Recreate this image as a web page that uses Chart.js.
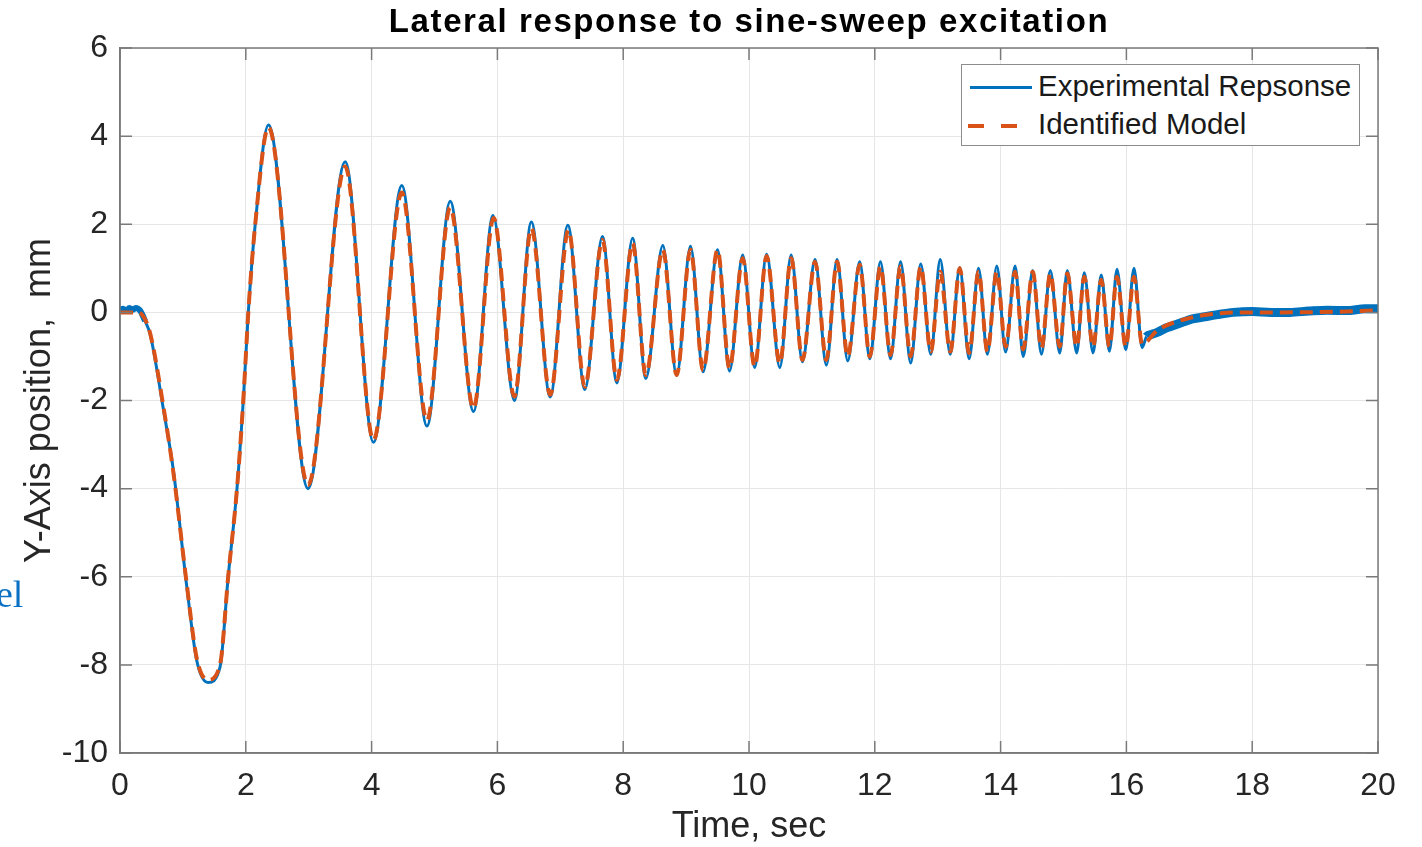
<!DOCTYPE html>
<html>
<head>
<meta charset="utf-8">
<script src="https://cdn.jsdelivr.net/npm/chart.js@4"></script>
<style>
  body { margin: 0; background: #fff; }
  #wrap { position: relative; width: 1422px; height: 847px; overflow: hidden; font-family: "Liberation Sans", Arial, sans-serif; }
  #title { position: absolute; left: 120px; width: 1258px; top: 2px; text-align: center; font-weight: bold; font-size: 33px; letter-spacing: 1.6px; color: #000; }
  #legend { position: absolute; left: 961px; top: 64px; width: 397px; height: 80px; border: 1.5px solid #8c8c8c; background: #fff; }
  .row { position: absolute; left: 76px; font-size: 29.5px; color: #1a1a1a; line-height: 32px; }
  .sw { position: absolute; height: 3px; }
  #stray { position: absolute; left: -4px; top: 572px; font-family: "Liberation Serif", "DejaVu Serif", serif; font-size: 38px; color: #0a70c4; }
</style>
</head>
<body>
<div id="wrap">
  <canvas id="myChart" width="1422" height="847"></canvas>
  <div id="title">Lateral response to sine-sweep excitation</div>
  <div id="legend">
    <div class="sw" style="left:8px; top:21px; width:62px; background:#0072BD;"></div>
    <div class="row" style="top:5px;">Experimental Repsonse</div>
    <div class="sw" style="left:6px; top:59px; width:16px; height:4px; background:#D95319;"></div>
    <div class="sw" style="left:39px; top:59px; width:16px; height:4px; background:#D95319;"></div>
    <div class="row" style="top:43px;">Identified Model</div>
  </div>
  <div id="stray">el</div>
</div>
<script>
// time (s) and position (mm)
var modelTime = [0, 0.1, 0.25, 0.35, 0.48, 0.69, 0.85, 1.06, 1.22, 1.40, 1.59, 1.72, 1.86, 1.96, 2.04, 2.15, 2.36,
  2.99, 3.58, 4.03, 4.48, 4.88, 5.25, 5.62, 5.94, 6.27, 6.54, 6.84, 7.13, 7.39, 7.67, 7.90, 8.15, 8.36, 8.63, 8.85,
  9.07, 9.27, 9.50, 9.69, 9.90, 10.09, 10.28, 10.49, 10.67, 10.85, 11.05, 11.23, 11.40, 11.57, 11.76, 11.92,
  12.09, 12.25, 12.41, 12.57, 12.73, 12.89, 13.04, 13.20, 13.35, 13.50, 13.65, 13.79, 13.94, 14.08, 14.23, 14.36,
  14.51, 14.65, 14.79, 14.94, 15.06, 15.21, 15.33, 15.47, 15.60, 15.73, 15.85, 15.99, 16.12, 16.25,
  16.50, 17.00, 17.50, 18.00, 18.50, 19.50, 20.00];
var modelPos = [0, 0, 0, -0.05, -0.48, -2.14, -3.65, -6.15, -7.85, -8.34, -8.0, -6.0, -4.0, -2.0, 0, 2.0, 4.20,
  -3.92, 3.31, -2.90, 2.72, -2.45, 2.38, -2.18, 2.14, -1.91, 1.91, -1.87, 1.87, -1.69, 1.64, -1.53, 1.57, -1.42, 1.42, -1.42,
  1.42, -1.31, 1.42, -1.27, 1.23, -1.23, 1.28, -1.16, 1.23, -1.08, 1.15, -1.08, 1.15, -1.00, 1.08, -1.00,
  1.04, -0.97, 1.04, -1.00, 1.04, -0.89, 0.92, -0.89, 1.00, -0.92, 0.92, -0.89, 0.92, -0.78, 0.92, -0.84,
  0.92, -0.81, 0.88, -0.78, 0.88, -0.78, 0.81, -0.78, 0.74, -0.78, 0.81, -0.78, 0.81, -0.72,
  -0.40, -0.13, -0.02, 0.00, 0.00, 0.02, 0.05];

var expTime = [0, 0.05, 0.1, 0.15, 0.2, 0.25, 0.32, 0.4, 0.48, 0.69, 0.85, 1.06, 1.22, 1.40, 1.59, 1.72, 1.86, 1.96, 2.04, 2.15, 2.36,
  2.99, 3.58, 4.03, 4.48, 4.88, 5.25, 5.62, 5.93, 6.27, 6.54, 6.84, 7.12, 7.39, 7.67, 7.90, 8.15, 8.36, 8.63, 8.85,
  9.07, 9.27, 9.50, 9.69, 9.90, 10.09, 10.28, 10.49, 10.67, 10.85, 11.05, 11.23, 11.40, 11.57, 11.76, 11.92,
  12.09, 12.25, 12.41, 12.57, 12.73, 12.89, 13.04, 13.20, 13.35, 13.50, 13.65, 13.79, 13.94, 14.08, 14.23, 14.36,
  14.51, 14.65, 14.79, 14.94, 15.06, 15.21, 15.33, 15.47, 15.60, 15.73, 15.85, 15.99, 16.12, 16.25,
  16.32, 16.40, 16.50, 16.62, 16.75, 16.90, 17.05, 17.25, 17.45, 17.70, 18.00, 18.30, 18.60, 18.90, 19.20, 19.50, 19.80, 20.00];
var expPos = [0.05, 0.08, 0.04, 0.1, 0.06, 0.1, 0.04, -0.2, -0.5, -2.2, -3.6, -6.2, -7.9, -8.4, -8.05, -6.0, -4.0, -2.0, 0, 2.0, 4.25,
  -4.0, 3.42, -2.95, 2.88, -2.58, 2.52, -2.25, 2.2, -2.0, 2.05, -1.92, 1.98, -1.75, 1.72, -1.6, 1.68, -1.5, 1.52, -1.43,
  1.5, -1.35, 1.42, -1.33, 1.3, -1.25, 1.32, -1.25, 1.3, -1.12, 1.2, -1.2, 1.2, -1.1, 1.15, -1.05,
  1.15, -1.05, 1.15, -1.15, 1.1, -0.95, 1.2, -0.95, 1.02, -1.05, 1.0, -0.95, 1.05, -0.9, 1.05, -1.0,
  0.95, -0.95, 0.95, -0.92, 0.95, -0.92, 0.9, -0.92, 0.85, -0.88, 0.98, -0.85, 1.0, -0.8,
  -0.55, -0.5, -0.45, -0.36, -0.3, -0.22, -0.15, -0.1, -0.05, 0.0, 0.02, 0.0, 0.0, 0.03, 0.05, 0.04, 0.08, 0.08];

var xTicks = [0, 2, 4, 6, 8, 10, 12, 14, 16, 18, 20];
var yTicks = [-10, -8, -6, -4, -2, 0, 2, 4, 6];

function toPoints(xs, ys) {
    return xs.map((x, i) => ({ x: x, y: ys[i] }));
}

var axisColor = '#7a7a7a';

// box round the plot and MATLAB-style inward ticks
var boxPlugin = {
    id: 'box',
    afterDraw(chart) {
        var ctx = chart.ctx;
        var a = chart.chartArea;
        var xs = chart.scales.x, ys = chart.scales.y;
        ctx.save();
        ctx.strokeStyle = axisColor;
        ctx.lineWidth = 1.5;
        ctx.strokeRect(a.left, a.top, a.right - a.left, a.bottom - a.top);
        ctx.beginPath();
        xTicks.forEach(t => {
            var px = xs.getPixelForValue(t);
            ctx.moveTo(px, a.bottom); ctx.lineTo(px, a.bottom - 12);
            ctx.moveTo(px, a.top); ctx.lineTo(px, a.top + 12);
        });
        yTicks.forEach(t => {
            var py = ys.getPixelForValue(t);
            ctx.moveTo(a.left, py); ctx.lineTo(a.left + 12, py);
            ctx.moveTo(a.right, py); ctx.lineTo(a.right - 12, py);
        });
        ctx.stroke();
        ctx.restore();
    }
};

var tickFont = { family: '"Liberation Sans", Arial, sans-serif', size: 32 };
var labelFont = { family: '"Liberation Sans", Arial, sans-serif', size: 36 };

// the measured trace is noisy where it sits still, so draw it thicker there
function noisyWidth(c) {
    var t = c.p0.parsed.x;
    if (t < 0.35) return 6;
    if (t > 16.28) return 9;
    return 3;
}

var config = {
    type: 'line',
    data: {
        datasets: [
            {
                label: 'Experimental Repsonse',
                data: toPoints(expTime, expPos),
                borderColor: '#0072BD',
                borderWidth: 3,
                segment: { borderWidth: noisyWidth },
                pointRadius: 0,
                cubicInterpolationMode: 'monotone',
                fill: false,
                order: 2
            },
            {
                label: 'Identified Model',
                data: toPoints(modelTime, modelPos),
                borderColor: '#D95319',
                borderWidth: 4,
                borderDash: [13, 7],
                pointRadius: 0,
                cubicInterpolationMode: 'monotone',
                fill: false,
                order: 1
            }
        ]
    },
    options: {
        responsive: false,
        animation: false,
        layout: { padding: { top: 48, right: 44, left: 0, bottom: 0 } },
        plugins: { legend: { display: false }, tooltip: { enabled: false }, title: { display: false } },
        scales: {
            x: {
                type: 'linear',
                min: 0, max: 20,
                afterFit(scale) { scale.height = 94; },
                afterBuildTicks(scale) { scale.ticks = xTicks.map(v => ({ value: v })); },
                ticks: { font: tickFont, color: '#262626', padding: 14, maxRotation: 0 },
                grid: { color: '#e6e6e6', lineWidth: 1, drawTicks: false },
                border: { color: axisColor, width: 1.5 },
                title: { display: true, text: 'Time, sec', font: labelFont, color: '#262626', padding: { top: 0, bottom: -2 } }
            },
            y: {
                type: 'linear',
                min: -10, max: 6,
                afterFit(scale) { scale.width = 120; },
                afterBuildTicks(scale) { scale.ticks = yTicks.map(v => ({ value: v })); },
                ticks: { font: tickFont, color: '#262626', padding: 12 },
                grid: { color: '#e6e6e6', lineWidth: 1, drawTicks: false },
                border: { color: axisColor, width: 1.5 },
                title: { display: true, text: 'Y-Axis position,  mm', font: labelFont, color: '#262626', padding: { top: 18, bottom: 0 } }
            }
        }
    },
    plugins: [boxPlugin]
};

var ctx = document.getElementById('myChart').getContext('2d');
var myChart = new Chart(ctx, config);
</script>
</body>
</html>
